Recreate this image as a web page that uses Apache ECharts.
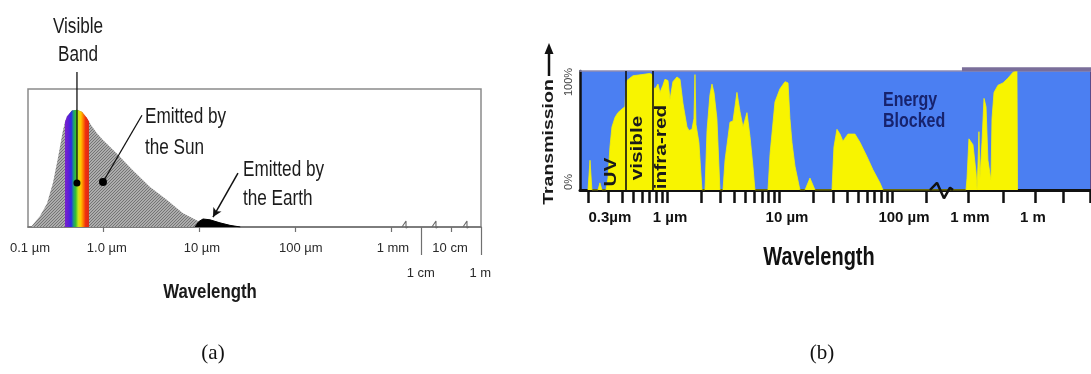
<!DOCTYPE html>
<html><head><meta charset="utf-8">
<script src="https://cdn.jsdelivr.net/npm/echarts@6/dist/echarts.min.js"></script>
<style>html,body{margin:0;padding:0;background:#fff}#c{width:1091px;height:374px}</style>
</head><body><div id="c"></div>
<script>
// ---------- Panel (a): emission spectra (x = log10(wavelength / µm), compressed past 1 mm) ----------
const aSunX  = [-0.75,-0.656,-0.583,-0.521,-0.469,-0.417,-0.396,-0.375,-0.323,-0.271,-0.219,-0.167,-0.146,-0.125,-0.063,0,0.146,0.313,0.49,0.667,0.833,1.01,1.19,1.43];
const aSunY  = [0,0.08,0.17,0.32,0.50,0.70,0.76,0.80,0.845,0.85,0.835,0.79,0.765,0.74,0.68,0.63,0.53,0.41,0.29,0.196,0.10,0.036,0.015,0];
const aBandX = [-0.396,-0.375,-0.323,-0.271,-0.219,-0.167,-0.146];
const aBandY = [0.76,0.80,0.845,0.85,0.835,0.79,0.765];
const aEarthX = [0.958,1.0,1.042,1.115,1.219,1.323,1.43];
const aEarthY = [0,0.04,0.058,0.052,0.03,0.012,0];
const aTickPos  = [0,1,2,3,3.625];
const aLabelPos = [-0.76,0.04,1.03,2.06,3.02,3.615];
const aLabels   = ['0.1 µm','1.0 µm','10 µm','100 µm','1 mm','10 cm'];
const aLowTickPos  = [3.3125,3.9375];
const aLowLabelPos = [3.31,3.93];
const aLowLabels   = ['1 cm','1 m'];
const aBreaks = [3.146,3.458,3.781];
// leaders: [x0,y0,x1,y1]
const aVisibleLeader = [-0.271,1.123,-0.271,0.319];
const aSunLeader     = [0.406,0.81,0.0,0.326];
const aEarthArrow    = [1.406,0.391,1.146,0.072];

// ---------- Panel (b): atmospheric transmission (%) ----------
const bX = [-0.702,-0.684,-0.667,-0.613,-0.596,-0.578,
  -0.542,-0.524,-0.507,-0.489,-0.462,-0.436,-0.400,-0.373,-0.364,-0.356,-0.302,-0.222,-0.151,-0.133,-0.116,-0.098,-0.080,-0.062,-0.036,-0.018,0.009,0.027,0.053,0.089,0.116,0.142,0.178,0.196,0.222,0.240,0.249,0.258,0.284,0.311,
  0.338,0.356,0.382,0.400,0.418,0.444,0.471,
  0.498,0.516,0.560,0.587,0.622,0.649,0.676,0.711,0.738,0.764,0.782,
  0.898,0.916,0.960,1.004,1.049,1.076,1.093,1.111,1.138,1.182,
  1.227,1.271,1.316,
  1.467,1.484,1.511,1.538,1.564,1.609,1.671,1.716,1.778,1.831,1.893,1.920,
  2.658,2.667,2.684,2.720,2.747,2.756,2.764,2.773,2.782,2.800,2.818,2.836,2.853,2.880,2.889,2.907,2.942,2.987,3.031,3.076,3.111,3.116];
const bT = [0,25,0,0,6,0,
  0,10,36,53,61,65,68,70,90,92,96,97,98,97,85,86,89,82,88,93,92,76,91,95,93,73,53,50,51,60,97,55,40,0,
  0,50,80,89,82,60,0,
  0,25,57,58,82,66,53,65,45,20,0,
  0,30,74,85,91,90,60,40,20,0,
  0,10,0,
  0,36,51,47,41,47,47,40,28,17,6,0,
  0,10,43,38,15,0,20,49,10,40,77,70,25,8,60,82,88,90,94,99,100,0];
const bTickWl = [0.2,0.3,0.4,0.5,0.6,0.7,0.8,0.9,1,2,3,4,5,6,7,8,9,10,20,30,40,50,60,70,80,90,100,200];
const bTickFar = [2.676,2.987,3.271,3.52,3.76];
const bLabelPos = [-0.507,0.027,1.067,2.107,2.693,3.253];
const bLabels   = ['0.3µm','1 µm','10 µm','100 µm','1 mm','1 m'];
const bBandEdges = [-0.373,-0.133];
const bTopBand = [2.622,3.769];
const bBreak = [[2.338,0],[2.4,6],[2.462,-7],[2.516,2],[2.542,0]];

const FS = "'Liberation Sans',Arial,sans-serif";

function lookup(vals, texts){ return function(v){ for (let i=0;i<vals.length;i++) if (Math.abs(vals[i]-v)<1e-6) return texts[i]; return ''; }; }
function zip(xs, ys){ return xs.map((x,i)=>[x,ys[i]]); }

// hatch pattern for the Sun curve
const pc = document.createElement('canvas'); pc.width=3; pc.height=3;
const g = pc.getContext('2d'); g.fillStyle='#acacac'; g.fillRect(0,0,3,3);
g.fillStyle='#747474'; for (let i=0;i<3;i++) g.fillRect(i,2-i,1,1);

const bTickPos = bTickWl.map(w=>Math.log10(w)).concat(bTickFar);
const dpx = 1/96, dpy = 1/138;
const zigSeries = aBreaks.map(x=>({
  type:'line', xAxisIndex:0, yAxisIndex:0, clip:false, symbol:'none', silent:true, z:6,
  lineStyle:{color:'#6a6a6a', width:1.1},
  data:[[x-3*dpx,0],[x+1*dpx,6*dpy],[x+1*dpx,-1*dpy],[x+3*dpx,0]]
}));

function txt(t, x, y, font, fill, align, extra){
  return Object.assign({type:'text', x:x, y:y, silent:true, z:100,
    style:{text:t, font:font, fill:fill, align:align||'center', verticalAlign:'middle', textAlign:align||'center', textVerticalAlign:'middle'}}, extra||{});
}
const R = Math.PI/2;
const NA = {scaleX:0.78};
const TC = '#1c1c1c';

const chart = echarts.init(document.getElementById('c'), null, {renderer:'canvas'});
chart.setOption({
  animation:false,
  backgroundColor:'#ffffff',
  grid:[
    {left:28, top:89, width:453, height:138, show:true, borderColor:'#8a8a8a', borderWidth:1.5, backgroundColor:'transparent', outerBoundsMode:'none'},
    {left:580, top:71, width:511, height:119, show:true, borderWidth:0, backgroundColor:'#4b7ff2', outerBoundsMode:'none'}
  ],
  xAxis:[
    {gridIndex:0, type:'value', min:-0.781, max:3.9375, splitLine:{show:false},
     axisLine:{show:true, onZero:false, lineStyle:{color:'#707070', width:1.5}},
     axisTick:{show:true, customValues:aTickPos, length:5, lineStyle:{color:'#707070', width:1.2}},
     axisLabel:{show:true, customValues:aLabelPos, formatter:lookup(aLabelPos,aLabels), margin:15, fontFamily:FS, fontSize:13, color:'#2a2a2a'}},
    {gridIndex:0, type:'value', min:-0.781, max:3.9375, position:'bottom', splitLine:{show:false},
     axisLine:{show:false, onZero:false},
     axisTick:{show:true, customValues:aLowTickPos, length:28, lineStyle:{color:'#707070', width:1.2}},
     axisLabel:{show:true, customValues:aLowLabelPos, formatter:lookup(aLowLabelPos,aLowLabels), margin:40, fontFamily:FS, fontSize:13, color:'#2a2a2a'}},
    {gridIndex:1, type:'value', min:-0.773, max:3.769, splitLine:{show:false},
     axisLine:{show:true, onZero:false, lineStyle:{color:'#111', width:3}},
     axisTick:{show:true, customValues:bTickPos, length:13, lineStyle:{color:'#111', width:2.5}},
     axisLabel:{show:true, customValues:bLabelPos, formatter:lookup(bLabelPos,bLabels), margin:20, fontFamily:FS, fontWeight:'bold', fontSize:15, color:'#111'}},
    {gridIndex:1, type:'value', min:-0.773, max:3.769, position:'top', splitLine:{show:false},
     axisLine:{show:true, onZero:false, lineStyle:{color:'#8e8cb4', width:1.5}}, axisTick:{show:false}, axisLabel:{show:false}}
  ],
  yAxis:[
    {gridIndex:0, type:'value', min:0, max:1, show:false},
    {gridIndex:1, type:'value', min:0, max:100, position:'left', splitLine:{show:false}, axisTick:{show:false}, axisLabel:{show:false},
     axisLine:{show:true, onZero:false, lineStyle:{color:'#111', width:2.5}}},
    {gridIndex:1, type:'value', min:0, max:100, position:'right', splitLine:{show:false}, axisTick:{show:false}, axisLabel:{show:false},
     axisLine:{show:true, onZero:false, lineStyle:{color:'#5a4a8a', width:3}}}
  ],
  series:[
    {name:'Sun', type:'line', xAxisIndex:0, yAxisIndex:0, data:zip(aSunX,aSunY), symbol:'none', z:2,
     lineStyle:{width:0}, areaStyle:{color:{image:pc, repeat:'repeat'}, opacity:1}},
    {name:'Visible', type:'line', xAxisIndex:0, yAxisIndex:0, data:zip(aBandX,aBandY), symbol:'none', z:3,
     lineStyle:{width:0},
     areaStyle:{opacity:1, color:new echarts.graphic.LinearGradient(0,0,1,0,[
       {offset:0,color:'#7a22cc'},{offset:0.16,color:'#5a1fd8'},{offset:0.26,color:'#2b2be6'},
       {offset:0.36,color:'#1e9c7a'},{offset:0.45,color:'#38c030'},{offset:0.55,color:'#c4e41c'},
       {offset:0.66,color:'#ffc800'},{offset:0.76,color:'#ff7a00'},{offset:0.86,color:'#ef2e10'},{offset:1,color:'#dc2a14'}])}},
    {name:'Earth', type:'line', xAxisIndex:0, yAxisIndex:0, data:zip(aEarthX,aEarthY), symbol:'none', z:4,
     lineStyle:{color:'#000', width:1}, areaStyle:{color:'#000', opacity:1},
     markLine:{silent:true, symbol:['none','arrow'], symbolSize:[7,9], label:{show:false}, lineStyle:{color:'#111', width:1.5, type:'solid'},
       data:[[{coord:[aEarthArrow[0],aEarthArrow[1]]},{coord:[aEarthArrow[2],aEarthArrow[3]]}]]}},
    {name:'VisibleLeader', type:'line', xAxisIndex:0, yAxisIndex:0, clip:false, silent:true, z:7,
     lineStyle:{color:'#111', width:1.3}, symbolSize:7, itemStyle:{color:'#000'},
     data:[{value:[aVisibleLeader[0],aVisibleLeader[1]], symbol:'none'},{value:[aVisibleLeader[2],aVisibleLeader[3]], symbol:'circle'}]},
    {name:'SunLeader', type:'line', xAxisIndex:0, yAxisIndex:0, clip:false, silent:true, z:7,
     lineStyle:{color:'#111', width:1.3}, symbolSize:8, itemStyle:{color:'#000'},
     data:[{value:[aSunLeader[0],aSunLeader[1]], symbol:'none'},{value:[aSunLeader[2],aSunLeader[3]], symbol:'circle'}]},
    ...zigSeries,
    {name:'Transmission', type:'line', xAxisIndex:2, yAxisIndex:1, data:zip(bX,bT), symbol:'none', z:2,
     lineStyle:{color:'#f8f400', width:0.8}, areaStyle:{color:'#f8f400', opacity:1},
     markLine:{silent:true, symbol:'none', label:{show:false}, lineStyle:{color:'#111', width:1.6, type:'solid'},
       data:bBandEdges.map(v=>({xAxis:v}))}},
    {name:'TopBand', type:'line', xAxisIndex:2, yAxisIndex:1, clip:false, silent:true, symbol:'none', z:5,
     lineStyle:{color:'#7a6e9a', width:4}, data:[[bTopBand[0],101.5],[bTopBand[1],101.5]]},
    {name:'BreakB', type:'line', xAxisIndex:2, yAxisIndex:1, clip:false, silent:true, symbol:'none', z:6,
     lineStyle:{color:'#111', width:2.5}, data:bBreak}
  ],
  graphic:[
    txt('Visible',78,27,'22px '+FS,TC,'center',NA),
    txt('Band',78,55,'22px '+FS,TC,'center',NA),
    txt('Emitted by',145,117,'22px '+FS,TC,'left',NA),
    txt('the Sun',145,148,'22px '+FS,TC,'left',NA),
    txt('Emitted by',243,170,'22px '+FS,TC,'left',NA),
    txt('the Earth',243,199,'22px '+FS,TC,'left',NA),
    txt('Wavelength',210,292,'bold 21px '+FS,'#1a1a1a','center',{scaleX:0.8}),
    txt('(a)',213,353,"21px 'Liberation Serif','Times New Roman',serif",'#111'),
    txt('Energy',883,100,'bold 16px '+FS,'#17236e','left',{scaleY:1.3}),
    txt('Blocked',883,121,'bold 16px '+FS,'#17236e','left',{scaleY:1.3}),
    txt('Wavelength',819,258,'bold 20px '+FS,'#111','center',{scaleY:1.25}),
    txt('UV',612,172,'bold 16px '+FS,'#1a1a1a','center',{rotation:R, scaleX:1.3}),
    txt('visible',638,148,'bold 16px '+FS,'#1a1a1a','center',{rotation:R, scaleX:1.3}),
    txt('infra-red',662,147,'bold 16px '+FS,'#1a1a1a','center',{rotation:R, scaleX:1.3}),
    txt('Transmission',549,142,'bold 15px '+FS,'#1a1a1a','center',{rotation:R, scaleX:1.3}),
    txt('100%',569,82,'11px '+FS,'#444','center',{rotation:R}),
    txt('0%',569,182,'11px '+FS,'#444','center',{rotation:R}),
    {type:'line', silent:true, z:100, shape:{x1:549,y1:76,x2:549,y2:52}, style:{stroke:'#111', lineWidth:2.5}},
    {type:'polygon', silent:true, z:100, shape:{points:[[549,43],[544.5,54],[553.5,54]]}, style:{fill:'#111'}},
    txt('(b)',822,353,"21px 'Liberation Serif','Times New Roman',serif",'#111')
  ]
});
</script>
</body></html>
